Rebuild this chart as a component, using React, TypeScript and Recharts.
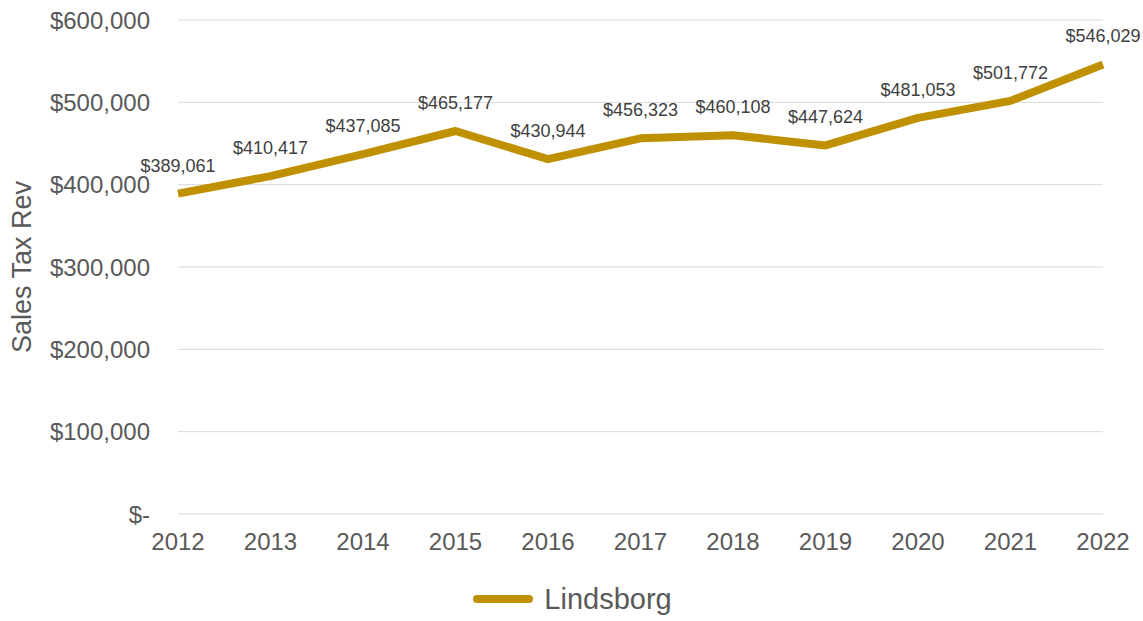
import React from 'react';
import { LineChart, Line, XAxis, YAxis, CartesianGrid, Legend, LabelList, Label } from 'recharts';

const years = ['2012', '2013', '2014', '2015', '2016', '2017', '2018', '2019', '2020', '2021', '2022'];
const revenue = [389061, 410417, 437085, 465177, 430944, 456323, 460108, 447624, 481053, 501772, 546029];
const yTicks = [0, 100000, 200000, 300000, 400000, 500000, 600000];

const GOLD = '#BF9000';
const FONT = 'Arial, "Liberation Sans", sans-serif';

const data = years.map((year, i) => ({ year, Lindsborg: revenue[i] }));

const money = (v: number) => (v === 0 ? '$-' : '$' + v.toLocaleString('en-US'));

const LegendContent = () => (
  <div style={{ display: 'flex', justifyContent: 'center', alignItems: 'center', height: 50, paddingTop: 6, boxSizing: 'border-box', fontFamily: FONT }}>
    <svg width={64} height={12}>
      <line x1={6} y1={6} x2={58} y2={6} stroke={GOLD} strokeWidth={8} strokeLinecap="round" />
    </svg>
    <span style={{ fontSize: 29, color: '#595959', marginLeft: 9, lineHeight: '32px' }}>Lindsborg</span>
  </div>
);

export default function App() {
  return (
    <div style={{ position: 'absolute', left: 0, top: 0, background: '#fff' }}>
      <LineChart width={1143} height={621} data={data} margin={{ top: 20, right: 40, left: 0, bottom: 0 }}>
        <CartesianGrid vertical={false} stroke="#D9D9D9" strokeWidth={1} />
        <XAxis
          dataKey="year"
          axisLine={false}
          tickLine={false}
          tickSize={6}
          tickMargin={13}
          height={57}
          interval={0}
          tick={{ fontSize: 24, fill: '#595959', fontFamily: FONT }}
        />
        <YAxis
          domain={[0, 600000]}
          ticks={yTicks}
          width={178}
          axisLine={false}
          tickLine={false}
          tickSize={6}
          tickMargin={22}
          tickFormatter={money}
          tick={{ fontSize: 24, fill: '#595959', fontFamily: FONT }}
        >
          <Label
            content={({ viewBox }: any) => {
              const cy = viewBox.y + viewBox.height / 2;
              return (
                <text
                  x={22}
                  y={cy}
                  transform={`rotate(-90, 22, ${cy})`}
                  textAnchor="middle"
                  dominantBaseline="central"
                  fontSize={27}
                  fill="#595959"
                  fontFamily={FONT}
                >
                  Sales Tax Rev
                </text>
              );
            }}
          />
        </YAxis>
        <Legend verticalAlign="bottom" content={<LegendContent />} wrapperStyle={{ left: 0, width: 1143 }} />
        <Line
          type="linear"
          dataKey="Lindsborg"
          stroke={GOLD}
          strokeWidth={8}
          strokeLinejoin="round"
          dot={false}
          activeDot={false}
          isAnimationActive={false}
        >
          <LabelList
            dataKey="Lindsborg"
            position="top"
            offset={22}
            formatter={(v: any) => money(Number(v))}
            style={{ fontSize: 18, fill: '#404040', fontFamily: FONT }}
          />
        </Line>
      </LineChart>
    </div>
  );
}
